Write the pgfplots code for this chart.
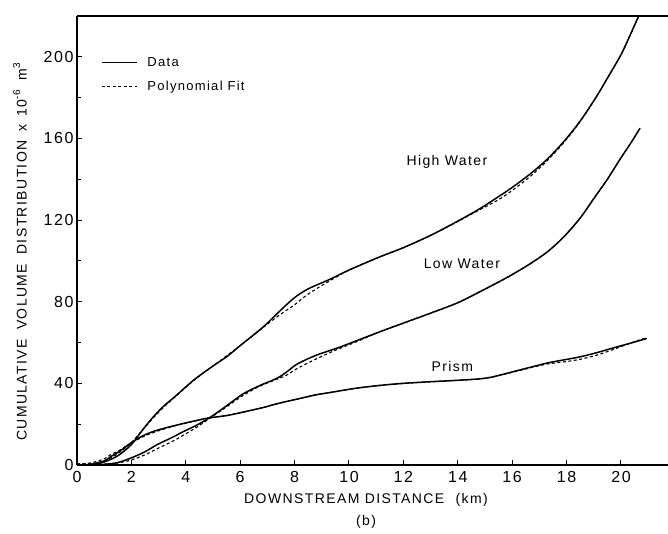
\documentclass[border=0pt]{standalone}
\usepackage{fontspec}
\setmainfont{Liberation Sans}[LetterSpace=10]
\usepackage{pgfplots}
\pgfplotsset{compat=1.18}
\begin{document}
\begin{tikzpicture}
\begin{axis}[
  name=ax,
  scale only axis,
  width=591pt, height=449pt,
  xmin=0, xmax=21.73, ymin=0, ymax=220,
  axis x line=box, axis y line=left,
  every outer x axis line/.append style={-},
  every outer y axis line/.append style={-},
  x axis line style={-, line width=1.4pt},
  y axis line style={-, line width=1.9pt},
  xtick={0,2,...,20}, ytick={0,40,...,200},
  minor y tick num=1,
  xtick pos=left, ytick pos=left,
  tick align=inside,
  major tick length=5pt, minor tick length=4pt,
  every tick/.style={black, line width=1pt},
  /pgf/number format/assume math mode=true,
  ticklabel style={font=\fontsize{16}{19}\selectfont},
  xticklabel style={yshift=-3pt},
  xlabel={DOWNSTREAM DISTANCE\hspace{6pt} (km)\\[5pt](b)},
  ylabel={CUMULATIVE\hspace{4pt} VOLUME\hspace{4pt} DISTRIBUTION\hspace{4pt} x\hspace{2pt} 10\raisebox{0.9ex}{\fontsize{10}{12}\selectfont -6}\hspace{4pt} m\raisebox{0.9ex}{\fontsize{10}{12}\selectfont 3}},
  label style={font=\fontsize{14}{17}\selectfont},
  xlabel style={at={(axis description cs:0.489,-0.0546)}, anchor=north, align=center},
  ylabel style={at={(axis description cs:-0.0965,0.474)}, anchor=center},
  legend style={draw=none, fill=none, at={(axis description cs:0.035,0.917)}, anchor=north west,
    font=\fontsize{13}{15}\selectfont, row sep=9pt,
    /tikz/every odd column/.append style={column sep=8pt}},
  legend cell align=left,
  legend image code/.code={\draw[#1] (0pt,0pt) -- (35pt,0pt);},
  data/.style={black, line width=1.5pt, smooth},
  fit/.style={black, line width=1.1pt, dash pattern=on 3pt off 2.5pt, smooth},
]
% High Water
\addplot[data] coordinates {
(0,0) (0.5,0.2) (1.0,1.5) (1.5,4.5) (2.0,10) (2.4,17) (2.8,23.5) (3.2,29) (3.6,33.5)
(4.3,41.7) (5.0,48.5) (5.5,53) (6.0,58.5) (6.7,66) (7.0,69.5) (7.5,76) (8.0,82)
(8.5,86.3) (9.3,91) (10,95.5) (11.1,101.8) (12,106.5) (13.0,112.5) (14.0,119.5) (14.8,125.5)
(15.5,131.5) (16.0,136) (16.7,143) (17.3,150) (17.9,158.5) (18.5,168.5) (19.1,180.5)
(19.5,189.5) (20.0,201) (20.35,211) (20.75,223)};
\addlegendentry{Data}
\addplot[fit] coordinates {
(0,0.5) (0.5,0.5) (1.0,2) (1.5,5.5) (2.0,11) (2.4,17) (2.8,23) (3.2,28.5) (3.6,33.3)
(4.3,41.5) (5,48.5) (6,58.5) (7,69) (7.5,74) (8,78.5) (8.5,83.8) (9.3,90.3) (10,95.5)
(11.1,101.8) (12,106.5) (13,112.5) (14,119.3) (14.8,125) (15.5,130) (16,134.5) (16.7,141.8)
(17.3,149.3) (17.9,158) (18.5,168.3) (19.1,180.5) (19.5,189.5) (20,201) (20.35,211) (20.75,223)};
\addlegendentry{Polynomial Fit}
% Low Water
\addplot[data, forget plot] coordinates {
(0,0) (0.5,0) (1.0,0.3) (1.5,1.2) (2.0,3.5) (2.5,6.5) (2.95,10) (3.5,13.5) (3.9,16.3)
(4.4,19.5) (4.9,23.4) (5.5,29) (6.1,34.8) (6.7,38.8) (7.35,42.5) (7.7,45.5) (8.1,49.5)
(8.8,53.8) (9.55,57.2) (10.3,61) (11.14,65.3) (12.1,70) (12.98,74.3) (14.0,79.5)
(14.8,84.8) (15.55,90) (16.0,93.3) (16.65,98.5) (17.3,104.5) (17.9,111.8) (18.5,121)
(19.0,130.5) (19.5,140) (20.0,150.5) (20.35,157.5) (20.7,165)};
\addplot[fit, forget plot] coordinates {
(0,0.5) (1,0.5) (1.5,1) (2,2.5) (2.5,5) (2.95,8) (3.5,11.5) (3.9,14.5) (4.4,18.5)
(4.9,23) (5.5,28.5) (6.1,34) (6.7,38.5) (7.35,42) (7.7,44) (8.1,47.3) (8.8,52)
(9.55,56.5) (10.3,60.5) (11.14,65.3) (12.1,70) (12.98,74.3) (14.0,79.5)
(14.8,84.8) (15.55,90) (16.0,93.3) (16.65,98.5) (17.3,104.5) (17.9,111.8) (18.5,121)
(19.0,130.5) (19.5,140) (20.0,150.5) (20.35,157.5) (20.7,165)};
% Prism
\addplot[data, forget plot] coordinates {
(0,0) (0.5,0.3) (1.0,2) (1.23,4) (1.6,7) (1.96,10.6) (2.45,14.5) (2.94,17) (3.68,19.6)
(4.78,22.9) (5.5,24.2) (6.13,26) (6.8,28) (7.35,30) (8.0,32) (8.76,34.3) (9.3,35.5)
(10.2,37.5) (11.14,39) (12.0,40) (13,40.8) (14,41.5) (14.8,42.2) (15.3,43.2) (16.0,45.6)
(16.7,48) (17.3,50) (17.9,51.5) (18.5,53) (19.1,55) (19.7,57.3) (20.3,59.5) (20.95,62)};
\addplot[fit, forget plot] coordinates {
(0,0.5) (0.5,1) (1.0,3) (1.23,5) (1.6,7.5) (1.96,10.5) (2.45,14) (2.94,16.5) (3.68,19.5)
(4.78,22.9) (5.5,24.2) (6.13,26) (6.8,28) (7.35,30) (8.0,32) (8.76,34.3) (9.3,35.5)
(10.2,37.5) (11.14,39) (12.0,40) (13,40.8) (14,41.5) (14.8,42.2) (15.3,43.2) (16.0,45.4)
(16.7,47.7) (17.3,49.5) (17.9,50.5) (18.5,51.8) (19.1,53.8) (19.7,56.5) (20.3,59.5) (20.95,62.5)};
\node[font=\fontsize{14}{17}\selectfont] at (axis cs:13.6,148.5) {High Water};
\node[font=\fontsize{14}{17}\selectfont] at (axis cs:14.15,98.5) {Low Water};
\node[font=\fontsize{14}{17}\selectfont] at (axis cs:13.8,48.5) {Prism};
\end{axis}
\pgfresetboundingbox
\path ([shift={(-77pt,-69pt)}]ax.south west) rectangle ([shift={(0pt,16pt)}]ax.north east);
\end{tikzpicture}
\end{document}
